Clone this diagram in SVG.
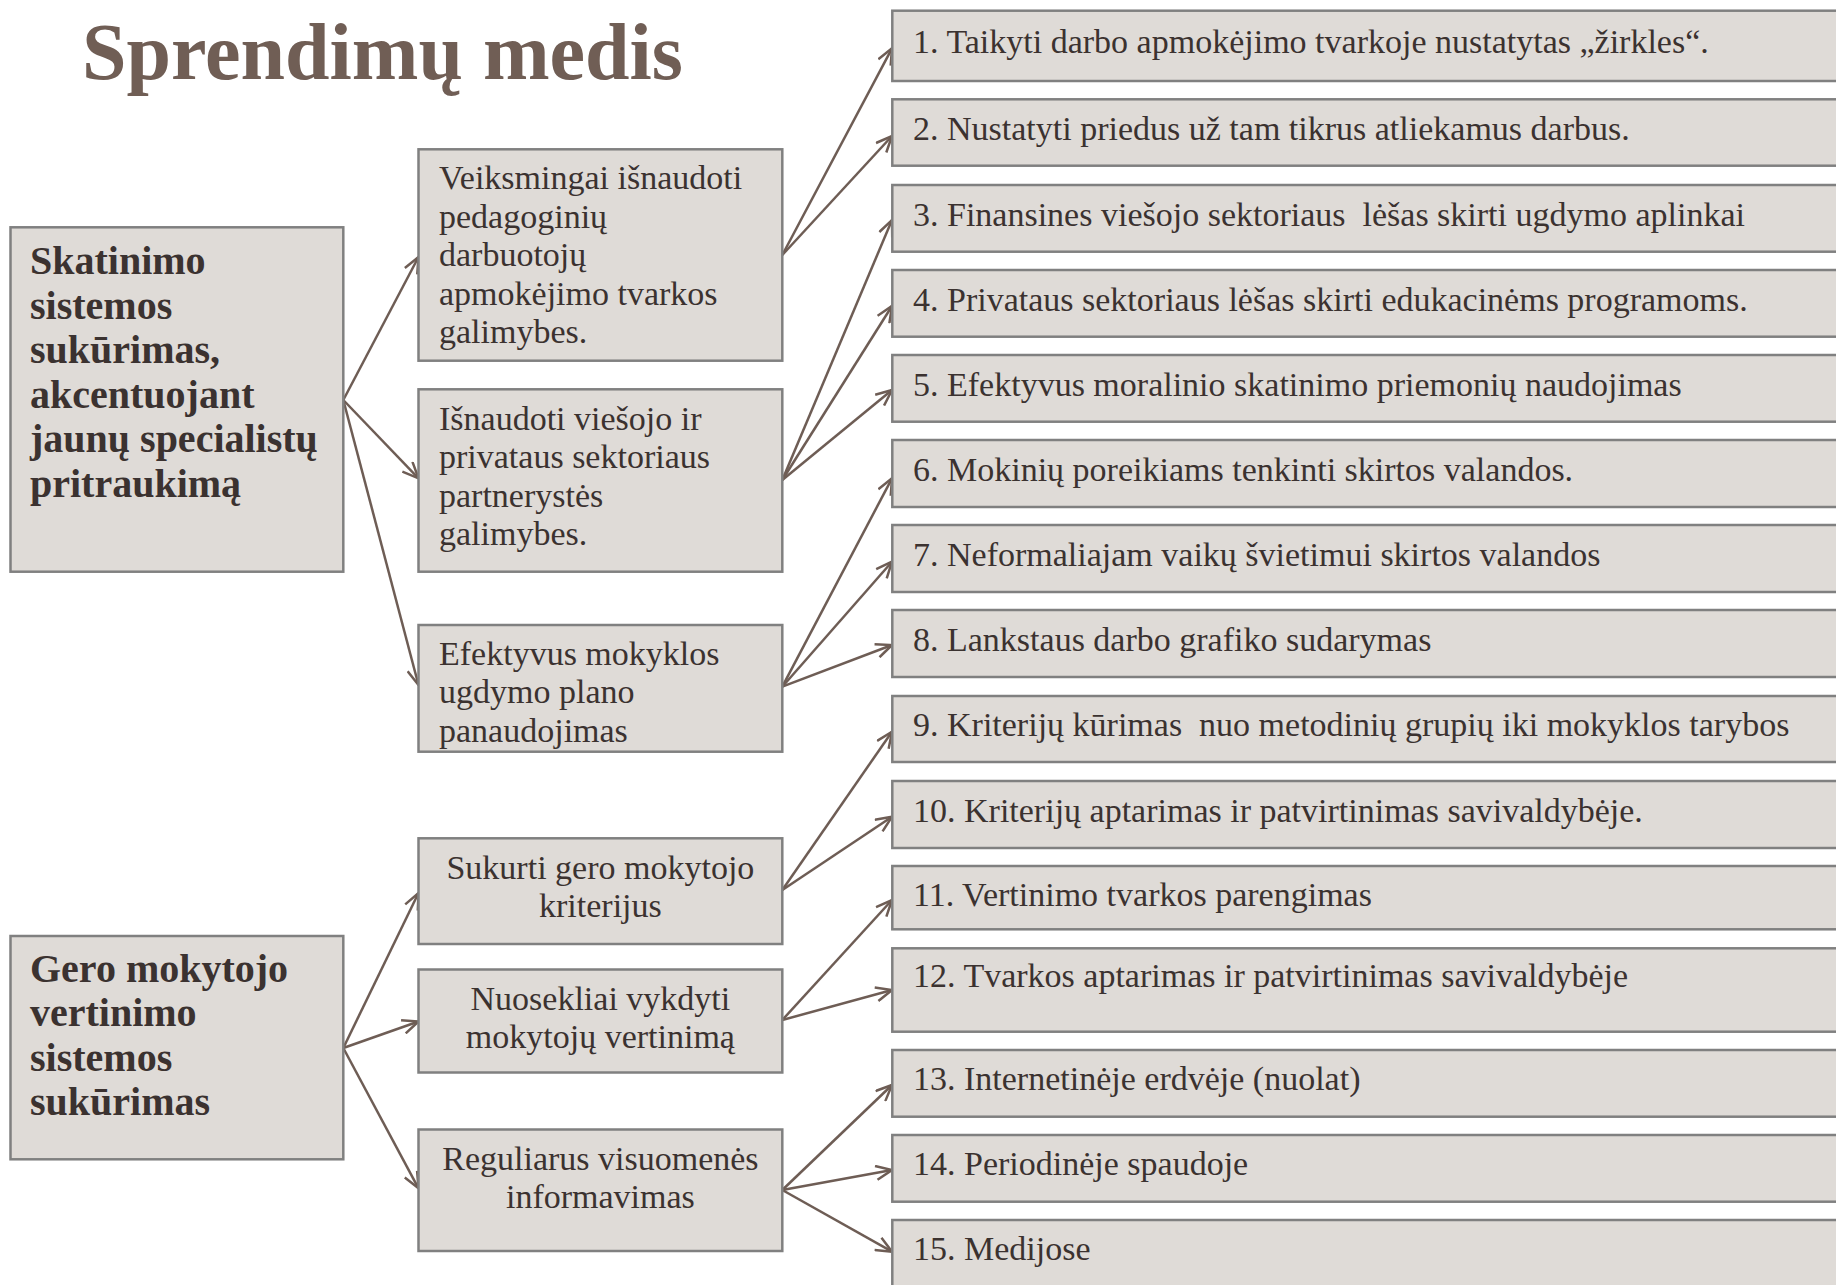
<svg xmlns="http://www.w3.org/2000/svg" width="1836" height="1285" viewBox="0 0 1836 1285">
<defs>
<style>
.box{fill:#dfdbd7;stroke:#808080;stroke-width:2.5}
.t{font-family:"Liberation Serif","Times New Roman",serif;font-size:34px;fill:#3b3230;white-space:pre}
.b{font-family:"Liberation Serif","Times New Roman",serif;font-size:40px;font-weight:bold;fill:#3b3230}
.c{text-anchor:middle}
.title{font-family:"Liberation Serif","Times New Roman",serif;font-size:80px;font-weight:bold;fill:#705e55}
.conn line{stroke:#6e5d55;stroke-width:2.5;marker-end:url(#arr)}
</style>
<marker id="arr" markerUnits="userSpaceOnUse" viewBox="0 0 18 16" refX="17" refY="8" markerWidth="18" markerHeight="16" orient="auto">
<path d="M1,1 L17,8 L1,15" fill="none" stroke="#6e5d55" stroke-width="2.5"/>
</marker>
</defs>
<rect width="1836" height="1285" fill="#ffffff"/>
<text id="title" class="title" x="82" y="79">Sprendimų medis</text>

<g class="conn" id="connectors">
<line x1="343.3" y1="400" x2="418.5" y2="257"/>
<line x1="343.3" y1="400" x2="418.5" y2="478.3"/>
<line x1="343.3" y1="400" x2="418.5" y2="685"/>
<line x1="343.3" y1="1048" x2="418.5" y2="893"/>
<line x1="343.3" y1="1048" x2="418.5" y2="1021.5"/>
<line x1="343.3" y1="1048" x2="418.5" y2="1188.3"/>
<line x1="782.3" y1="255" x2="892" y2="48.3"/>
<line x1="782.3" y1="255" x2="892" y2="136"/>
<line x1="782.3" y1="480" x2="892" y2="220"/>
<line x1="782.3" y1="480" x2="892" y2="306"/>
<line x1="782.3" y1="480" x2="892" y2="390"/>
<line x1="782.3" y1="686.7" x2="892" y2="478.3"/>
<line x1="782.3" y1="686.7" x2="892" y2="561.7"/>
<line x1="782.3" y1="686.7" x2="892" y2="645"/>
<line x1="782.3" y1="890" x2="892" y2="731.7"/>
<line x1="782.3" y1="890" x2="892" y2="816.7"/>
<line x1="782.3" y1="1020" x2="892" y2="900"/>
<line x1="782.3" y1="1020" x2="892" y2="990"/>
<line x1="782.3" y1="1190" x2="892" y2="1085"/>
<line x1="782.3" y1="1190" x2="892" y2="1170"/>
<line x1="782.3" y1="1190" x2="892" y2="1251.7"/>
</g>

<g id="left1">
<rect class="box" x="10.5" y="227.3" width="332.8" height="344.4"/>
<text class="b" x="30" y="274"><tspan x="30">Skatinimo</tspan><tspan x="30" dy="44.6">sistemos</tspan><tspan x="30" dy="44.6">sukūrimas,</tspan><tspan x="30" dy="44.6">akcentuojant</tspan><tspan x="30" dy="44.6">jaunų specialistų</tspan><tspan x="30" dy="44.6">pritraukimą</tspan></text>
</g>
<g id="left2">
<rect class="box" x="10.5" y="936" width="332.8" height="223.3"/>
<text class="b" x="30" y="981.7"><tspan x="30">Gero mokytojo</tspan><tspan x="30" dy="44.5">vertinimo</tspan><tspan x="30" dy="44.5">sistemos</tspan><tspan x="30" dy="44.5">sukūrimas</tspan></text>
</g>

<g id="m1">
<rect class="box" x="418.5" y="149.3" width="363.8" height="211.4"/>
<text class="t" x="439" y="189.3"><tspan x="439">Veiksmingai išnaudoti</tspan><tspan x="439" dy="38.5">pedagoginių</tspan><tspan x="439" dy="38.5">darbuotojų</tspan><tspan x="439" dy="38.5">apmokėjimo tvarkos</tspan><tspan x="439" dy="38.5">galimybes.</tspan></text>
</g>
<g id="m2">
<rect class="box" x="418.5" y="389.3" width="363.8" height="182.4"/>
<text class="t" x="439" y="430"><tspan x="439">Išnaudoti viešojo ir</tspan><tspan x="439" dy="38.4">privataus sektoriaus</tspan><tspan x="439" dy="38.4">partnerystės</tspan><tspan x="439" dy="38.4">galimybes.</tspan></text>
</g>
<g id="m3">
<rect class="box" x="418.5" y="625" width="363.8" height="126.7"/>
<text class="t" x="439" y="665"><tspan x="439">Efektyvus mokyklos</tspan><tspan x="439" dy="38.4">ugdymo plano</tspan><tspan x="439" dy="38.4">panaudojimas</tspan></text>
</g>
<g id="m4">
<rect class="box" x="418.5" y="838.3" width="363.8" height="105.7"/>
<text class="t c" x="600.4" y="879.3"><tspan x="600.4">Sukurti gero mokytojo</tspan><tspan x="600.4" dy="37.6">kriterijus</tspan></text>
</g>
<g id="m5">
<rect class="box" x="418.5" y="969.5" width="363.8" height="103"/>
<text class="t c" x="600.4" y="1010"><tspan x="600.4">Nuosekliai vykdyti</tspan><tspan x="600.4" dy="38.3">mokytojų vertinimą</tspan></text>
</g>
<g id="m6">
<rect class="box" x="418.5" y="1129.5" width="363.8" height="121.5"/>
<text class="t c" x="600.4" y="1170"><tspan x="600.4">Reguliarus visuomenės</tspan><tspan x="600.4" dy="37.7">informavimas</tspan></text>
</g>

<g id="r1"><rect class="box" x="892.3" y="10.7" width="960" height="70.3"/><text class="t" x="913" y="52.5">1. Taikyti darbo apmokėjimo tvarkoje nustatytas „žirkles“.</text></g>
<g id="r2"><rect class="box" x="892.3" y="99.3" width="960" height="66.4"/><text class="t" x="913" y="140">2. Nustatyti priedus už tam tikrus atliekamus darbus.</text></g>
<g id="r3"><rect class="box" x="892.3" y="185" width="960" height="66.7"/><text class="t" x="913" y="226" xml:space="preserve">3. Finansines viešojo sektoriaus  lėšas skirti ugdymo aplinkai</text></g>
<g id="r4"><rect class="box" x="892.3" y="270" width="960" height="66.7"/><text class="t" x="913" y="311">4. Privataus sektoriaus lėšas skirti edukacinėms programoms.</text></g>
<g id="r5"><rect class="box" x="892.3" y="355" width="960" height="66.7"/><text class="t" x="913" y="396">5. Efektyvus moralinio skatinimo priemonių naudojimas</text></g>
<g id="r6"><rect class="box" x="892.3" y="440" width="960" height="67"/><text class="t" x="913" y="481">6. Mokinių poreikiams tenkinti skirtos valandos.</text></g>
<g id="r7"><rect class="box" x="892.3" y="525" width="960" height="67"/><text class="t" x="913" y="566">7. Neformaliajam vaikų švietimui skirtos valandos</text></g>
<g id="r8"><rect class="box" x="892.3" y="610" width="960" height="67"/><text class="t" x="913" y="651">8. Lankstaus darbo grafiko sudarymas</text></g>
<g id="r9"><rect class="box" x="892.3" y="696" width="960" height="66"/><text class="t" x="913" y="736" xml:space="preserve">9. Kriterijų kūrimas  nuo metodinių grupių iki mokyklos tarybos</text></g>
<g id="r10"><rect class="box" x="892.3" y="781" width="960" height="67"/><text class="t" x="913" y="822">10. Kriterijų aptarimas ir patvirtinimas savivaldybėje.</text></g>
<g id="r11"><rect class="box" x="892.3" y="866" width="960" height="63.3"/><text class="t" x="913" y="906">11. Vertinimo tvarkos parengimas</text></g>
<g id="r12"><rect class="box" x="892.3" y="948.3" width="960" height="83.4"/><text class="t" x="913" y="987">12. Tvarkos aptarimas ir patvirtinimas savivaldybėje</text></g>
<g id="r13"><rect class="box" x="892.3" y="1050" width="960" height="66.7"/><text class="t" x="913" y="1090">13. Internetinėje erdvėje (nuolat)</text></g>
<g id="r14"><rect class="box" x="892.3" y="1135" width="960" height="66.7"/><text class="t" x="913" y="1175">14. Periodinėje spaudoje</text></g>
<g id="r15"><rect class="box" x="892.3" y="1220" width="960" height="80"/><text class="t" x="913" y="1260">15. Medijose</text></g>
</svg>
